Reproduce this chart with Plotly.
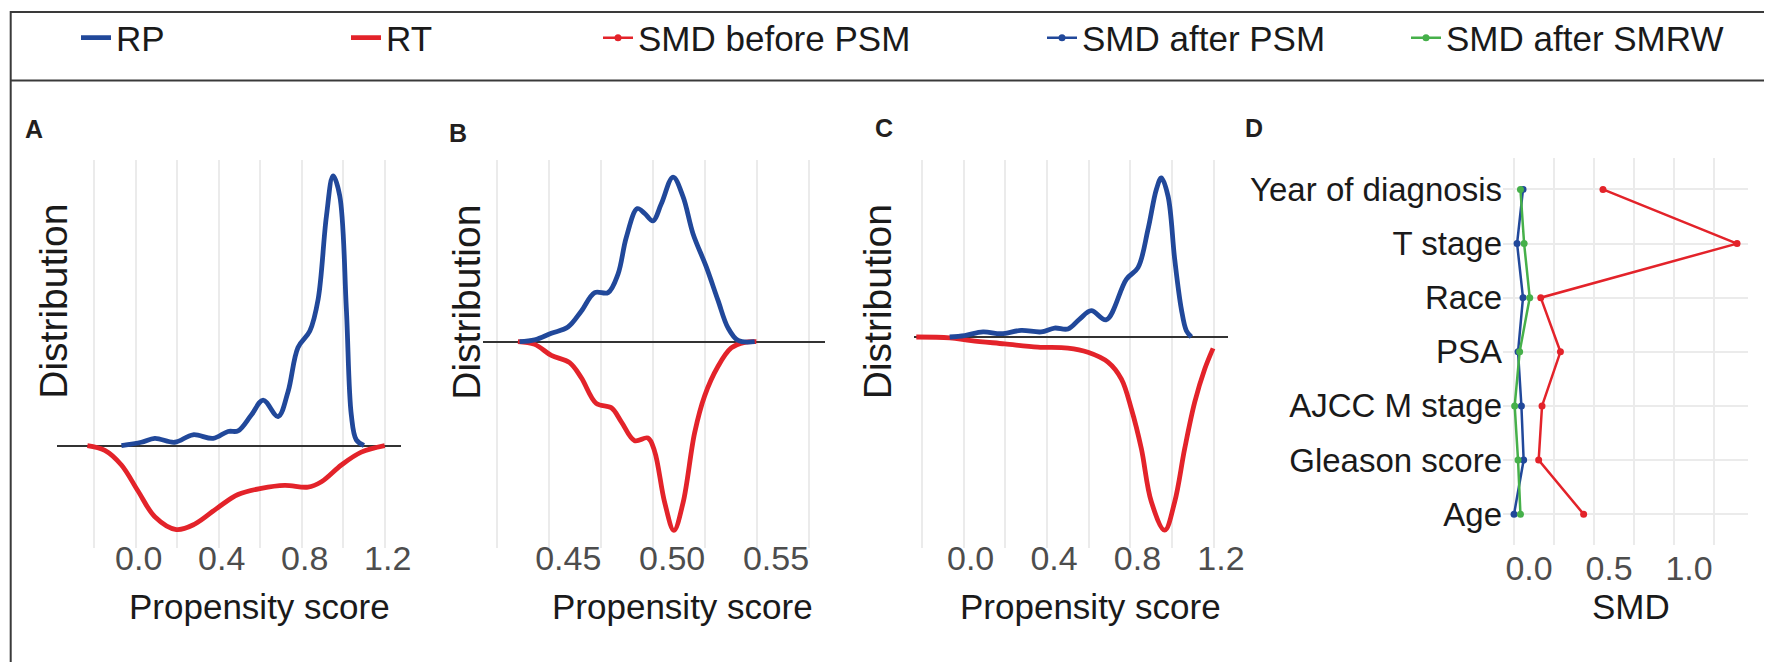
import plotly.graph_objects as go

W, H = 1772, 662

BLUE = "#21489a"
RED = "#e3232a"
GREEN = "#46b04a"
GRID = "#ebebeb"
FONT = "Liberation Sans"

# ---- panel A: propensity score, before matching ----
a_rp_x = [-0.069, 0.027, 0.092, 0.188, 0.276, 0.373, 0.445, 0.493, 0.557, 0.614, 0.686,
          0.734, 0.782, 0.839, 0.879, 0.919, 0.951, 0.983, 1.015, 1.039, 1.063, 1.100]
a_rp_y = [0, 0.11, 0.24, 0.11, 0.36, 0.24, 0.47, 0.49, 1.02, 1.52, 0.97,
          1.8, 3.28, 3.83, 4.89, 7.67, 9.02, 8.36, 4.58, 1.02, 0.19, 0]
a_rt_x = [-0.233, -0.149, -0.069, 0.011, 0.092, 0.196, 0.284, 0.397, 0.493, 0.605,
          0.718, 0.830, 0.895, 0.991, 1.087, 1.2]
a_rt_y = [0, -0.16, -0.65, -1.52, -2.38, -2.81, -2.63, -2.07, -1.64, -1.43,
          -1.33, -1.39, -1.21, -0.65, -0.22, 0]

# ---- panel B: after PSM ----
b_rp_x = [0.4357, 0.4430, 0.4510, 0.4590, 0.4654, 0.4719, 0.4783, 0.4831, 0.4871, 0.4924, 0.4959,
          0.4999, 0.5039, 0.5096, 0.5144, 0.5192, 0.5256, 0.5312, 0.5360, 0.5409, 0.5489]
b_rp_y = [0, 0.06, 0.28, 0.49, 1.02, 1.64, 1.64, 2.26, 3.49, 4.45, 4.29,
          4.04, 4.6, 5.5, 4.85, 3.61, 2.5, 1.39, 0.47, 0.04, 0]
b_rt_x = [0.4349, 0.4430, 0.4510, 0.4598, 0.4654, 0.4726, 0.4799, 0.4847, 0.4911, 0.4975,
          0.5007, 0.5056, 0.5100, 0.5144, 0.5200, 0.5248, 0.5312, 0.5376, 0.5441, 0.5497]
b_rt_y = [0, -0.09, -0.46, -0.70, -1.20, -2.06, -2.21, -2.68, -3.31, -3.22,
          -3.66, -5.39, -6.31, -5.39, -3.04, -1.81, -0.83, -0.21, -0.02, 0]

# ---- panel C: after SMRW ----
c_rp_x = [-0.067, 0.005, 0.093, 0.180, 0.276, 0.372, 0.436, 0.500, 0.556, 0.612, 0.684,
          0.780, 0.836, 0.884, 0.924, 0.948, 0.980, 1.012, 1.044, 1.068, 1.092]
c_rp_y = [0, 0.05, 0.17, 0.11, 0.22, 0.17, 0.30, 0.27, 0.6, 0.88, 0.58,
          1.93, 2.32, 3.6, 4.93, 5.32, 4.71, 2.6, 0.93, 0.21, 0]
c_rt_x = [-0.227, -0.067, 0.036, 0.197, 0.356, 0.500, 0.596, 0.692, 0.756, 0.804,
          0.852, 0.900, 0.964, 1.012, 1.060, 1.108, 1.156, 1.196]
c_rt_y = [0, -0.03, -0.12, -0.23, -0.34, -0.37, -0.51, -0.84, -1.4, -2.4,
          -3.73, -5.51, -6.46, -5.51, -3.73, -2.18, -1.07, -0.38]

# ---- panel D: standardized mean differences ----
covariates = ["Year of diagnosis", "T stage", "Race", "PSA", "AJCC M stage", "Gleason score", "Age"]
smd_before_psm = [0.556, 1.394, 0.167, 0.290, 0.175, 0.154, 0.435]
smd_after_psm = [0.056, 0.019, 0.056, 0.025, 0.046, 0.060, 0.0]
smd_after_smrw = [0.040, 0.063, 0.098, 0.035, 0.004, 0.025, 0.040]

ps_ticks = [-0.2, 0.0, 0.2, 0.4, 0.6, 0.8, 1.0, 1.2]
ps_labels = ["", "0.0", "", "0.4", "", "0.8", "", "1.2"]
b_ticks = [0.425, 0.45, 0.475, 0.50, 0.525, 0.55, 0.575]
b_labels = ["", "0.45", "", "0.50", "", "0.55", ""]
smd_ticks = [0, 0.25, 0.5, 0.75, 1.0, 1.25]
smd_labels = ["0.0", "", "0.5", "", "1.0", ""]


def px_x(a, b):
    return [a / W, b / W]


def px_y(top, bottom):
    return [1 - bottom / H, 1 - top / H]


fig = go.Figure()

curve = dict(mode="lines", line_shape="spline", hoverinfo="skip")
panels = [("x", "y", a_rp_x, a_rp_y, a_rt_x, a_rt_y),
          ("x2", "y2", b_rp_x, b_rp_y, b_rt_x, b_rt_y),
          ("x3", "y3", c_rp_x, c_rp_y, c_rt_x, c_rt_y)]
for i, (xa, ya, rpx, rpy, rtx, rty) in enumerate(panels):
    fig.add_trace(go.Scatter(x=rtx, y=rty, xaxis=xa, yaxis=ya, name="RT",
                             line=dict(color=RED, width=4.8), showlegend=(i == 0),
                             legend="legend2", **curve))
    fig.add_trace(go.Scatter(x=rpx, y=rpy, xaxis=xa, yaxis=ya, name="RP",
                             line=dict(color=BLUE, width=4.8), showlegend=(i == 0),
                             legend="legend", **curve))

smd = [("SMD before PSM", smd_before_psm, RED, "legend3"),
       ("SMD after PSM", smd_after_psm, BLUE, "legend4"),
       ("SMD after SMRW", smd_after_smrw, GREEN, "legend5")]
for name, vals, col, lg in smd:
    fig.add_trace(go.Scatter(x=vals, y=covariates, xaxis="x4", yaxis="y4", name=name,
                             mode="lines+markers", line=dict(color=col, width=2.5),
                             marker=dict(color=col, size=7), legend=lg, hoverinfo="skip"))

tickfont = dict(family=FONT, size=34, color="#4d4d4d")
xcommon = dict(showgrid=True, gridcolor=GRID, gridwidth=1.5, zeroline=False, showline=False,
               ticks="", tickmode="array", tickfont=tickfont, automargin=False)
ycommon = dict(showgrid=False, showticklabels=False, zeroline=True, zerolinecolor="#333333",
               zerolinewidth=1.5, ticks="", automargin=False)
ydom = px_y(150.5, 540)

fig.update_layout(
    xaxis=dict(domain=px_x(49.3, 392.7), range=[-0.378, 1.277], tickvals=ps_ticks,
               ticktext=ps_labels, ticklabelshift=3, ticklabelstandoff=-13, anchor="y", **xcommon),
    yaxis=dict(domain=ydom, range=[-3.44, 9.55], anchor="x", **ycommon),
    xaxis2=dict(domain=px_x(475, 816.7), range=[0.4181, 0.5826], tickvals=b_ticks,
                ticktext=b_labels, ticklabelshift=19, ticklabelstandoff=-13, anchor="y2", **xcommon),
    yaxis2=dict(domain=ydom, range=[-6.91, 6.073], anchor="x2", **ycommon),
    xaxis3=dict(domain=px_x(906, 1220.3), range=[-0.238, 1.269], tickvals=ps_ticks,
                ticktext=ps_labels, ticklabelshift=7, ticklabelstandoff=-13, anchor="y3", **xcommon),
    yaxis3=dict(domain=ydom, range=[-7.067, 5.917], anchor="x3", **ycommon),
    xaxis4=dict(domain=px_x(1495, 1740), range=[-0.069, 1.4625], tickvals=smd_ticks,
                ticktext=smd_labels, ticklabelshift=15, anchor="y4", **xcommon),
    yaxis4=dict(domain=px_y(148.3, 536.7), range=[-0.571, 6.584], type="category",
                categoryorder="array", categoryarray=covariates[::-1], anchor="x4",
                showgrid=True, gridcolor=GRID, gridwidth=1.5, zeroline=False, ticks="",
                tickfont=dict(family=FONT, size=33, color="#1a1a1a"), automargin=False),
)

# legends spread along the top box
leg_font = dict(family=FONT, size=35, color="#1a1a1a")
leg_x = {"legend": 68, "legend2": 338, "legend3": 590, "legend4": 1034, "legend5": 1398}
for key, xpx in leg_x.items():
    fig.layout[key] = dict(x=xpx / W, y=1 - 28 / H, xanchor="left", yanchor="middle",
                           orientation="h", font=leg_font, bgcolor="rgba(0,0,0,0)",
                           itemclick=False, itemdoubleclick=False)

ann = []
for xc in [46, 459, 869.5]:
    ann.append(dict(text="Distribution", x=xc / W, y=1 - 292.6 / H, textangle=-90,
                    font=dict(family=FONT, size=39, color="#1a1a1a")))
for xc in [251, 674, 1082]:
    ann.append(dict(text="Propensity score", x=xc / W, y=1 - 598 / H,
                    font=dict(family=FONT, size=35, color="#1a1a1a")))
ann.append(dict(text="SMD", x=1622.5 / W, y=1 - 598 / H,
                font=dict(family=FONT, size=35, color="#1a1a1a")))
for lab, xc, yc in [("A", 26, 119), ("B", 450, 123), ("C", 876, 118), ("D", 1246, 118)]:
    ann.append(dict(text="<b>" + lab + "</b>", x=xc / W, y=1 - yc / H,
                    font=dict(family=FONT, size=25, color="#231f20")))
for a in ann:
    a.update(xref="paper", yref="paper", showarrow=False, xanchor="center", yanchor="middle")

shapes = [
    dict(type="rect", xref="paper", yref="paper", x0=2.7 / W, x1=1768 / W,
         y0=1 - 660 / H, y1=1 - 2 / H, line=dict(color="#3a3a3a", width=2)),
    dict(type="line", xref="paper", yref="paper", x0=2.7 / W, x1=1768 / W,
         y0=1 - 70.7 / H, y1=1 - 70.7 / H, line=dict(color="#3a3a3a", width=2)),
]

fig.update_layout(
    width=W, height=H, margin=dict(l=0, r=0, t=0, b=0),
    paper_bgcolor="white", plot_bgcolor="white",
    annotations=ann, shapes=shapes,
    font=dict(family=FONT),
)

fig.write_html("out.html")
